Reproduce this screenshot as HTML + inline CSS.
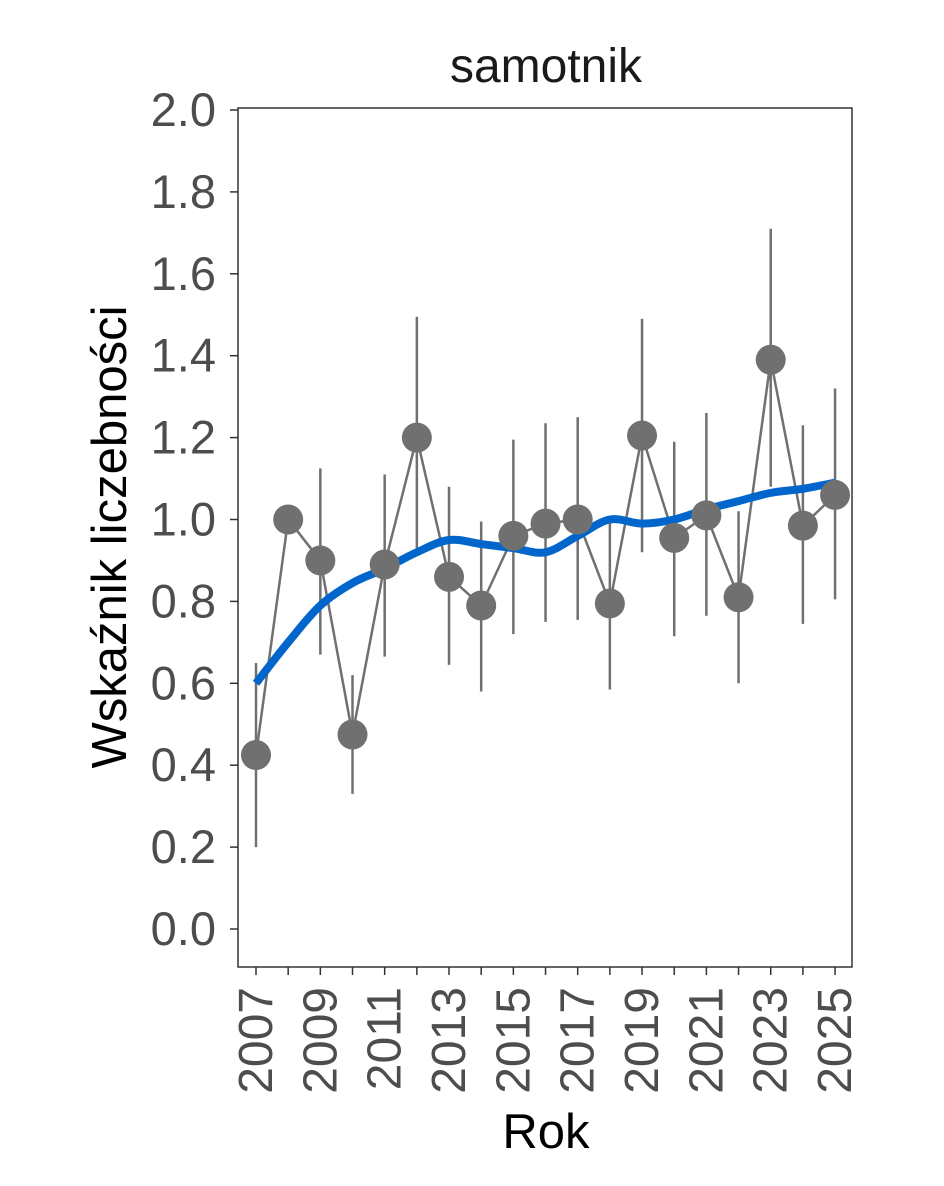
<!DOCTYPE html>
<html><head><meta charset="utf-8"><style>
body{margin:0;background:#fff}
svg text{font-family:"Liberation Sans",sans-serif}
</style></head><body>
<svg id="s" width="944" height="1181" xmlns="http://www.w3.org/2000/svg"></svg>
<script>
const s=document.getElementById('s');
const X=y=>256+(y-2007)*32.17, Y=v=>929-409.5*v;
let h='';
h+='<rect x="238" y="108" width="614" height="859" fill="#fff" stroke="#333" stroke-width="1.5"/>';
h+='<text x="546" y="82" font-size="48" text-anchor="middle" fill="#1a1a1a">samotnik</text>';
for(let i=0;i<=10;i++){const v=i*0.2,y=Y(v);
h+=`<line x1="230" x2="238" y1="${y}" y2="${y}" stroke="#333" stroke-width="1.5"/>`;
h+=`<text x="216" y="${y+16}" font-size="47" text-anchor="end" fill="#4d4d4d">${v.toFixed(1)}</text>`;}
for(let yr=2007;yr<=2025;yr++){const x=X(yr);
h+=`<line x1="${x}" x2="${x}" y1="967" y2="975" stroke="#333" stroke-width="1.5"/>`;
if((yr-2007)%2==0)h+=`<text transform="translate(${x+16},987) rotate(-90)" font-size="48" text-anchor="end" fill="#4d4d4d">${yr}</text>`;}
h+='<text x="546" y="1148" font-size="49" text-anchor="middle" fill="#000">Rok</text>';
h+='<text transform="translate(126,537) rotate(-90)" font-size="49" text-anchor="middle" fill="#000">Wskaźnik liczebności</text>';
const d=[[0.425,0.2,0.65],[1.0,1.0,1.0],[0.9,0.67,1.125],[0.475,0.33,0.62],[0.89,0.665,1.11],[1.2,0.93,1.495],[0.86,0.645,1.08],[0.79,0.58,0.995],[0.96,0.72,1.195],[0.99,0.75,1.235],[1.0,0.755,1.25],[0.795,0.585,1.0],[1.205,0.92,1.49],[0.955,0.715,1.19],[1.01,0.765,1.26],[0.81,0.6,1.02],[1.39,1.08,1.71],[0.985,0.745,1.23],[1.06,0.805,1.32]];
d.forEach((p,i)=>{const x=X(2007+i);h+=`<line x1="${x}" x2="${x}" y1="${Y(p[1])}" y2="${Y(p[2])}" stroke="#707070" stroke-width="2.5"/>`;});
h+='<polyline fill="none" stroke="#707070" stroke-width="2.5" points="'+d.map((p,i)=>X(2007+i)+','+Y(p[0])).join(' ')+'"/>';
const t=[0.6,0.7,0.79,0.845,0.88,0.92,0.95,0.94,0.93,0.92,0.96,1.0,0.99,1.0,1.025,1.045,1.065,1.075,1.09];
let pts=[];for(let i=0;i<t.length;i++)pts.push([X(2007+i),Y(t[i])]);
let path='M'+pts[0];for(let i=0;i<pts.length-1;i++){const p0=pts[Math.max(0,i-1)],p1=pts[i],p2=pts[i+1],p3=pts[Math.min(pts.length-1,i+2)];
path+=` C${p1[0]+(p2[0]-p0[0])/6},${p1[1]+(p2[1]-p0[1])/6} ${p2[0]-(p3[0]-p1[0])/6},${p2[1]-(p3[1]-p1[1])/6} ${p2[0]},${p2[1]}`;}
h+=`<path d="${path}" fill="none" stroke="#0066cc" stroke-width="8"/>`;
d.forEach((p,i)=>{h+=`<circle cx="${X(2007+i)}" cy="${Y(p[0])}" r="15" fill="#707070"/>`;});
s.innerHTML=h;
</script>
</body></html>
